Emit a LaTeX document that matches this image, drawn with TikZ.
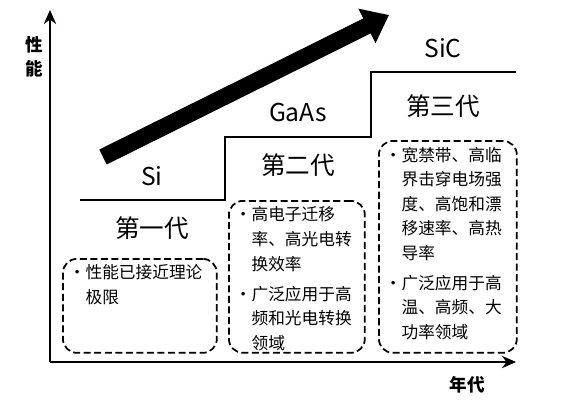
\documentclass[tikz,border=0pt]{standalone}
\usepackage{fontspec}
\setmainfont{Noto Sans CJK SC}
\XeTeXlinebreaklocale "zh"
\XeTeXlinebreakskip=0pt plus 1pt
\usetikzlibrary{arrows.meta,positioning}
\tikzset{
  axis/.style={line width=1.2pt,-{Stealth[length=8pt,width=7pt]}},
  stair/.style={line width=1.2pt},
  bigarrow/.style={line width=9.5pt,-{Triangle[length=14pt,width=21pt]}},
  genlabel/.style={font=\fontsize{14}{16}\selectfont,inner sep=0pt},
  axlabel/.style={font=\bfseries\fontsize{10}{14}\selectfont,align=center,inner sep=0pt},
  descbox/.style={draw,dash pattern=on 4pt off 2pt,line width=1pt,rounded corners=8pt,
    inner sep=0.12cm,anchor=north west,font=\fontsize{9.5}{14}\selectfont}
}
\newcommand{\itm}[1]{\hangindent=1em\hangafter=1\noindent\makebox[1em][l]{•}#1\par\vspace{3pt}}

\begin{document}
\begin{tikzpicture}[x=0.02cm,y=-0.02cm,>=Stealth]
  \useasboundingbox (0,0) rectangle (568,399);
  \coordinate (o) at (50,362);
  \coordinate (ytop) at (50,10);
  \coordinate (xend) at (516,362);
  \draw[axis] (o) -- (ytop);
  \draw[axis] (o) -- (xend);
  \node[axlabel] (perf) at (34,57) {性\\能};
  \node[axlabel] (era) at (467,385) {年代};
  \coordinate (tail) at (103,157);
  \coordinate (tip) at (389,15);
  \draw[bigarrow] (tail) -- (tip);
  \coordinate (s0) at (80,200);
  \coordinate (s1) at (225,200);
  \coordinate (s2) at (225,137);
  \coordinate (s3) at (371,137);
  \coordinate (s4) at (371,72);
  \coordinate (s5) at (516,72);
  \draw[stair] (s0) -- (s1) -- (s2) -- (s3) -- (s4) -- (s5);
  \node[genlabel] (si) at (152,176) {Si};
  \node[genlabel] (gen1) at (152,228) {第一代};
  \node[genlabel] (gaas) at (298,112) {GaAs};
  \node[genlabel] (gen2) at (298,165) {第二代};
  \node[genlabel] (sic) at (443,48) {SiC};
  \node[genlabel] (gen3) at (443,106) {第三代};
  \node[descbox] (sibox) at (62,258) {\parbox[t][1.64cm][t]{2.84cm}{\raggedright
    \itm{性能已接近理论极限}}};
  \node[descbox] (gaasbox) at (228,200) {\parbox[t][2.80cm][t]{2.48cm}{\raggedright
    \itm{高电子迁移率、高光电转换效率}
    \itm{广泛应用于高频和光电转换领域}}};
  \node[descbox] (sicbox) at (378,140) {\parbox[t][4.00cm][t]{2.52cm}{\raggedright
    \itm{宽禁带、高临界击穿电场强度、高饱和漂移速率、高热导率}
    \itm{广泛应用于高温、高频、大功率领域}}};
\end{tikzpicture}
\end{document}
